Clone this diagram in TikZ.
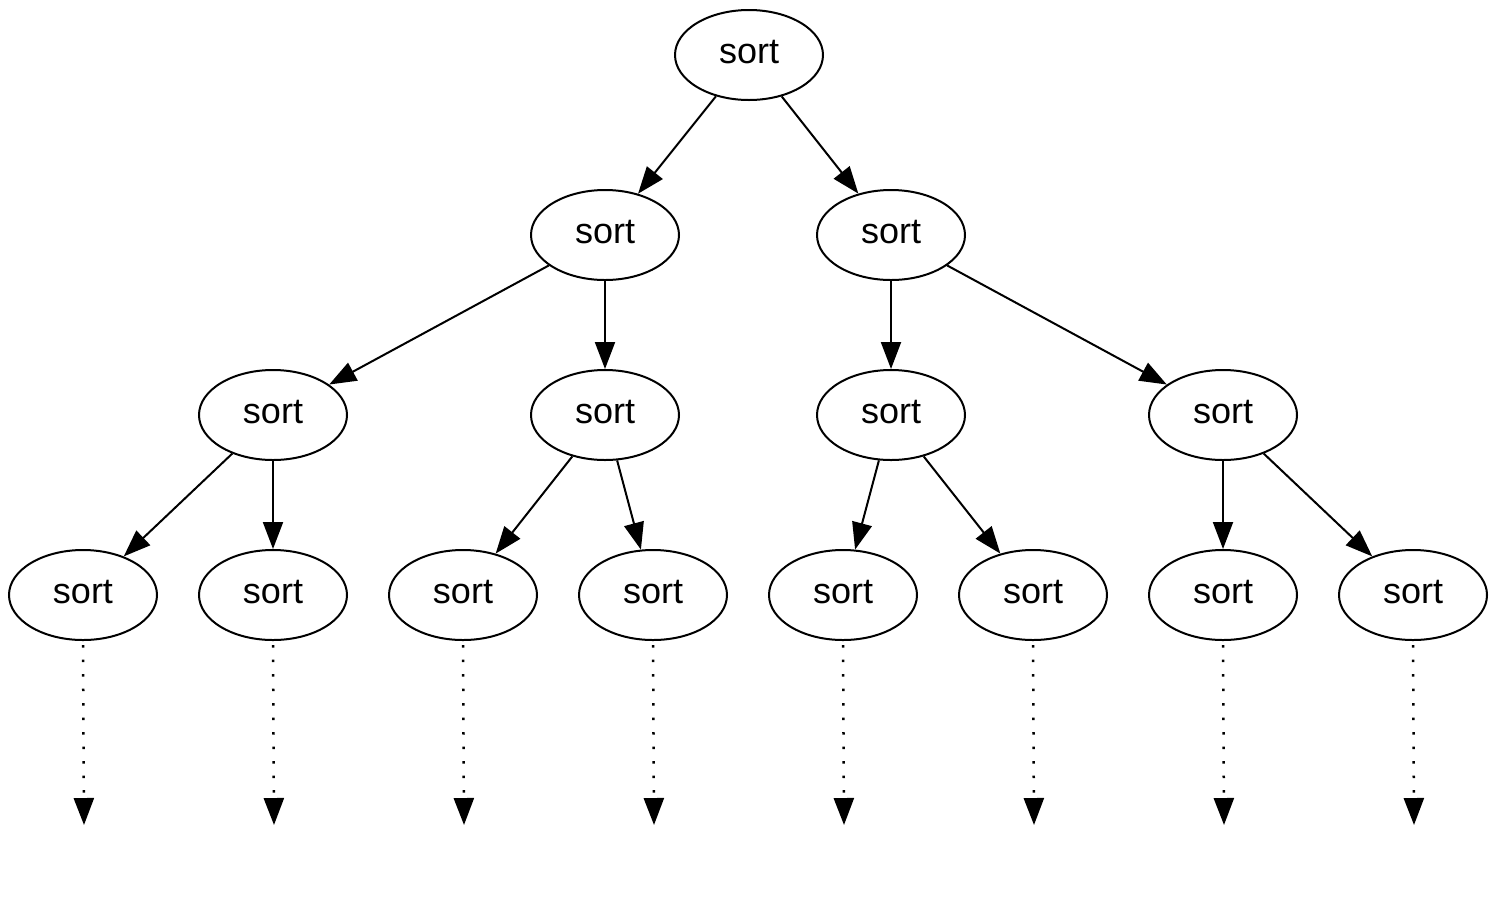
\documentclass[tikz,border=0pt]{standalone}
\usepackage{fontspec}
\setmainfont{Liberation Sans}
\usetikzlibrary{arrows.meta,shapes.geometric}
\begin{document}
\begin{tikzpicture}[x=1pt,y=-1pt,
  sortnode/.style={draw,line width=2pt,ellipse,minimum width=148pt,minimum height=90pt,inner sep=0pt,
    font=\fontsize{36}{40}\selectfont,text height=25pt,text depth=8pt},
  edge/.style={line width=2pt,-{Triangle[length=27pt,width=20pt]}},
  dotedge/.style={line width=2.5pt,dash pattern=on 2.5pt off 12pt,-{Triangle[length=27pt,width=20pt]}}]
\useasboundingbox (0,0) rectangle (1496,922);
\node[sortnode] (r) at (749,55) {sort};
\node[sortnode] (a) at (605,235) {sort};
\node[sortnode] (b) at (891,235) {sort};
\node[sortnode] (aa) at (273,415) {sort};
\node[sortnode] (ab) at (605,415) {sort};
\node[sortnode] (ba) at (891,415) {sort};
\node[sortnode] (bb) at (1223,415) {sort};
\foreach \n/\x in {l1/83,l2/273,l3/463,l4/653,l5/843,l6/1033,l7/1223,l8/1413}{
  \node[sortnode] (\n) at (\x,595) {sort};
  \coordinate (e\n) at (\x+1,825);
  \draw[dotedge] (\n.south) ++(0,4) -- (e\n);
}
\draw[edge] (r) -- (a);
\draw[edge] (r) -- (b);
\draw[edge] (a) -- (aa);
\draw[edge] (a) -- (ab);
\draw[edge] (b) -- (ba);
\draw[edge] (b) -- (bb);
\draw[edge] (aa) -- (l1);
\draw[edge] (aa) -- (l2);
\draw[edge] (ab) -- (l3);
\draw[edge] (ab) -- (l4);
\draw[edge] (ba) -- (l5);
\draw[edge] (ba) -- (l6);
\draw[edge] (bb) -- (l7);
\draw[edge] (bb) -- (l8);
\end{tikzpicture}
\end{document}
